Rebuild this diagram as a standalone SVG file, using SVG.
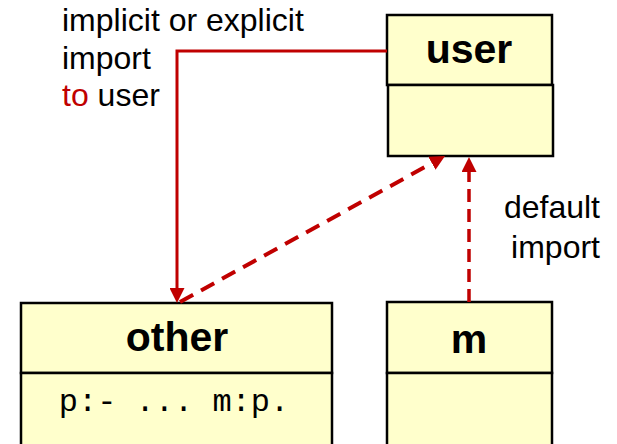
<svg xmlns="http://www.w3.org/2000/svg" width="617" height="444" viewBox="0 0 617 444">
  <style>
    .box { fill: #FFFFCC; stroke: #000; stroke-width: 2.5; }
    .title { font-family: "Liberation Sans", Arial, sans-serif; font-weight: bold; font-size: 41px; fill: #000; text-anchor: middle; }
    .label { font-family: "Liberation Sans", Arial, sans-serif; font-size: 32px; fill: #000; }
    .code { font-family: "Liberation Mono", "Courier New", monospace; font-size: 32px; fill: #000; text-anchor: middle; }
    .red { fill: #C00000; }
    .conn { fill: none; stroke: #C00000; }
  </style>
  <defs>
    <marker id="arrow" viewBox="0 0 15 15" refX="0" refY="7.5" markerWidth="15" markerHeight="15" markerUnits="userSpaceOnUse" orient="auto">
      <path d="M0,0 L15,7.5 L0,15 Z" fill="#C00000"/>
    </marker>
  </defs>

  <!-- module user -->
  <g id="user">
    <rect class="box" x="387" y="15" width="165" height="70"/>
    <rect class="box" x="388" y="85" width="165" height="71"/>
    <text class="title" x="469" y="63">user</text>
  </g>

  <!-- module other -->
  <g id="other">
    <rect class="box" x="21" y="303" width="311" height="70"/>
    <rect class="box" x="21" y="373" width="311" height="80"/>
    <text class="title" x="177" y="351">other</text>
    <text class="code" x="174" y="411">p:- ... m:p.</text>
  </g>

  <!-- module m -->
  <g id="m">
    <rect class="box" x="387" y="302" width="165" height="71"/>
    <rect class="box" x="387" y="373" width="165" height="80"/>
    <text class="title" x="469" y="353">m</text>
  </g>

  <!-- annotations -->
  <g id="labels">
    <text class="label" x="62" y="31">implicit or explicit</text>
    <text class="label" x="62" y="68.5">import</text>
    <text class="label" x="62" y="106"><tspan class="red">to</tspan> user</text>
    <text class="label" x="600" y="218" text-anchor="end">default</text>
    <text class="label" x="600" y="258" text-anchor="end">import</text>
  </g>

  <!-- import relations -->
  <g id="connectors">
    <path class="conn" d="M387,51 H177 V288" stroke-width="3" marker-end="url(#arrow)"/>
    <path class="conn" d="M180,302 L431.9,163.2" stroke-width="4" stroke-dasharray="15 9" marker-end="url(#arrow)"/>
    <path class="conn" d="M469,302 V172" stroke-width="3.5" stroke-dasharray="13 7" marker-end="url(#arrow)"/>
  </g>
</svg>
